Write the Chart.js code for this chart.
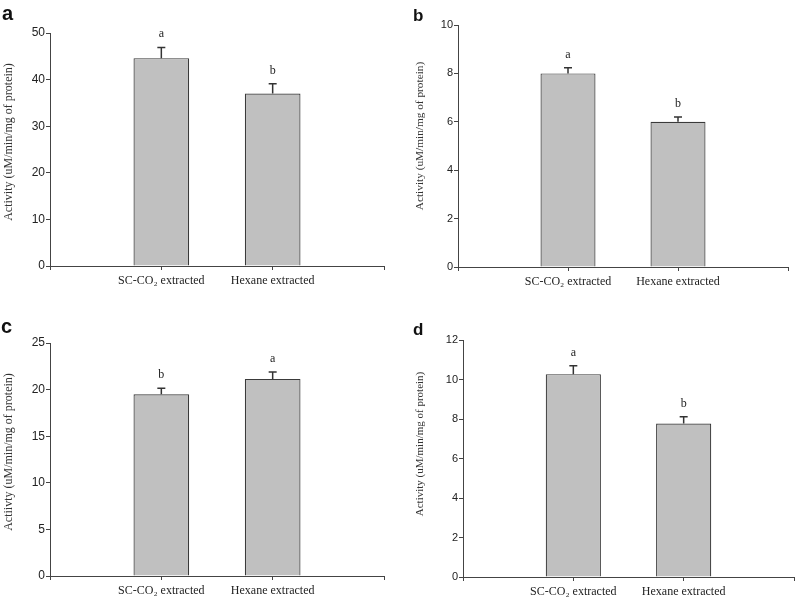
<!DOCTYPE html>
<html>
<head>
<meta charset="utf-8">
<script src="https://cdn.jsdelivr.net/npm/chart.js@4/dist/chart.umd.min.js"></script>
<style>
  body { margin: 0; background: #fff; }
  .panel { position: absolute; }
</style>
</head>
<body>
<div class="panel" style="left:0;top:0;width:400px;height:300px"><canvas id="chartA"></canvas></div>
<div class="panel" style="left:400px;top:0;width:398px;height:300px"><canvas id="chartB"></canvas></div>
<div class="panel" style="left:0;top:300px;width:400px;height:300px"><canvas id="chartC"></canvas></div>
<div class="panel" style="left:400px;top:300px;width:398px;height:300px"><canvas id="chartD"></canvas></div>
<script>
// categories (blank slots at both ends keep the bars at 1/3 and 2/3 of the axis)
const categories = ['', 'SC-CO₂ extracted', 'Hexane extracted', ''];

// panel a
const valuesA = [44.6, 37.0];
const errorsA = [2.3, 2.1];
const lettersA = ['a', 'b'];
// panel b
const valuesB = [8.0, 6.0];
const errorsB = [0.23, 0.2];
const lettersB = ['a', 'b'];
// panel c
const valuesC = [19.5, 21.15];
const errorsC = [0.65, 0.75];
const lettersC = ['b', 'a'];
// panel d
const valuesD = [10.27, 7.77];
const errorsD = [0.43, 0.35];
const lettersD = ['a', 'b'];

const yMax = [50, 10, 25, 12];
const yStep = [10, 2, 5, 2];
const yTitles = [
  'Activity (uM/min/mg of protein)',
  'Activity (uM/min/mg of protein)',
  'Actiivty (uM/min/mg of protein)',
  'Activity (uM/min/mg of protein)'
];
const panelNames = ['a', 'b', 'c', 'd'];

// layout of each panel (canvas size and plot area edges)
const layouts = [
  { id: 'chartA', w: 400, h: 300, left: 50, top: 33, right: 384, bottom: 266, tick: 12, title: 12, titleX: 9, titleY: 142, letter: 20, letterX: 2, letterY: 20 },
  { id: 'chartB', w: 398, h: 300, left: 58, top: 25, right: 388, bottom: 267, tick: 11, title: 11.3, titleX: 20, titleY: 136, letter: 17, letterX: 13, letterY: 21 },
  { id: 'chartC', w: 400, h: 300, left: 50, top: 43, right: 384, bottom: 276, tick: 12, title: 12, titleX: 9, titleY: 152, letter: 20, letterX: 1, letterY: 33 },
  { id: 'chartD', w: 398, h: 300, left: 63, top: 40, right: 396, bottom: 277, tick: 11, title: 11, titleX: 20, titleY: 144, letter: 17, letterX: 13, letterY: 35 }
];

const allValues = [valuesA, valuesB, valuesC, valuesD];
const allErrors = [errorsA, errorsB, errorsC, errorsD];
const allLetters = [lettersA, lettersB, lettersC, lettersD];

const axisColor = '#444';

// error bars, significance letters, panel letter and rotated y title
const extras = {
  id: 'extras',
  afterDatasetsDraw(chart, args, opts) {
    const ctx = chart.ctx;
    const meta = chart.getDatasetMeta(0);
    const y = chart.scales.y;
    ctx.save();
    opts.values.forEach((v, i) => {
      const bar = meta.data[i + 1];
      const x = bar.x;
      const top = y.getPixelForValue(v + opts.errors[i]);
      ctx.strokeStyle = '#333';
      ctx.lineWidth = 1.5;
      ctx.beginPath();
      ctx.moveTo(x, bar.y);
      ctx.lineTo(x, top);
      ctx.moveTo(x - 4, top);
      ctx.lineTo(x + 4, top);
      ctx.stroke();
      ctx.fillStyle = '#222';
      ctx.font = '12px "Liberation Serif"';
      ctx.textAlign = 'center';
      ctx.textBaseline = 'alphabetic';
      ctx.fillText(opts.letters[i], x, top - 10);
    });
    ctx.restore();
  },
  afterDraw(chart, args, opts) {
    const ctx = chart.ctx;
    const L = opts.layout;
    ctx.save();
    ctx.fillStyle = '#111';
    ctx.font = 'bold ' + L.letter + 'px "Liberation Sans"';
    ctx.textAlign = 'left';
    ctx.textBaseline = 'alphabetic';
    ctx.fillText(opts.name, L.letterX, L.letterY);
    ctx.translate(L.titleX, L.titleY);
    ctx.rotate(-Math.PI / 2);
    ctx.fillStyle = '#333';
    ctx.font = L.title + 'px "Liberation Serif"';
    ctx.textAlign = 'center';
    ctx.textBaseline = 'middle';
    ctx.fillText(opts.title, 0, 0);
    ctx.restore();
  }
};

layouts.forEach((L, p) => {
  const canvas = document.getElementById(L.id);
  canvas.width = L.w;
  canvas.height = L.h;
  new Chart(canvas, {
    type: 'bar',
    data: {
      labels: categories,
      datasets: [{
        data: [null, ...allValues[p], null],
        backgroundColor: '#c0c0c0',
        borderColor: '#3a3a3a',
        borderWidth: 1.2,
        barPercentage: 0.5,
        categoryPercentage: 1
      }]
    },
    options: {
      responsive: false,
      animation: false,
      layout: { padding: { top: L.top, right: L.w - L.right, left: 0, bottom: 0 } },
      plugins: {
        legend: { display: false },
        tooltip: { enabled: false },
        extras: { values: allValues[p], errors: allErrors[p], letters: allLetters[p], name: panelNames[p], title: yTitles[p], layout: L }
      },
      scales: {
        x: {
          offset: false,
          grid: { offset: false, drawOnChartArea: false, tickLength: 4, color: axisColor },
          border: { color: axisColor, width: 1 },
          ticks: { color: '#222', font: { family: 'Liberation Serif', size: 12 }, padding: 4, maxRotation: 0, autoSkip: false },
          afterFit(scale) { scale.height = L.h - L.bottom; }
        },
        y: {
          min: 0,
          max: yMax[p],
          grid: { drawOnChartArea: false, tickLength: 4, color: axisColor },
          border: { color: axisColor, width: 1 },
          ticks: { stepSize: yStep[p], color: '#222', font: { family: 'Liberation Sans', size: L.tick }, padding: 1 },
          afterFit(scale) { scale.width = L.left; }
        }
      }
    },
    plugins: [extras]
  });
});
</script>
</body>
</html>
